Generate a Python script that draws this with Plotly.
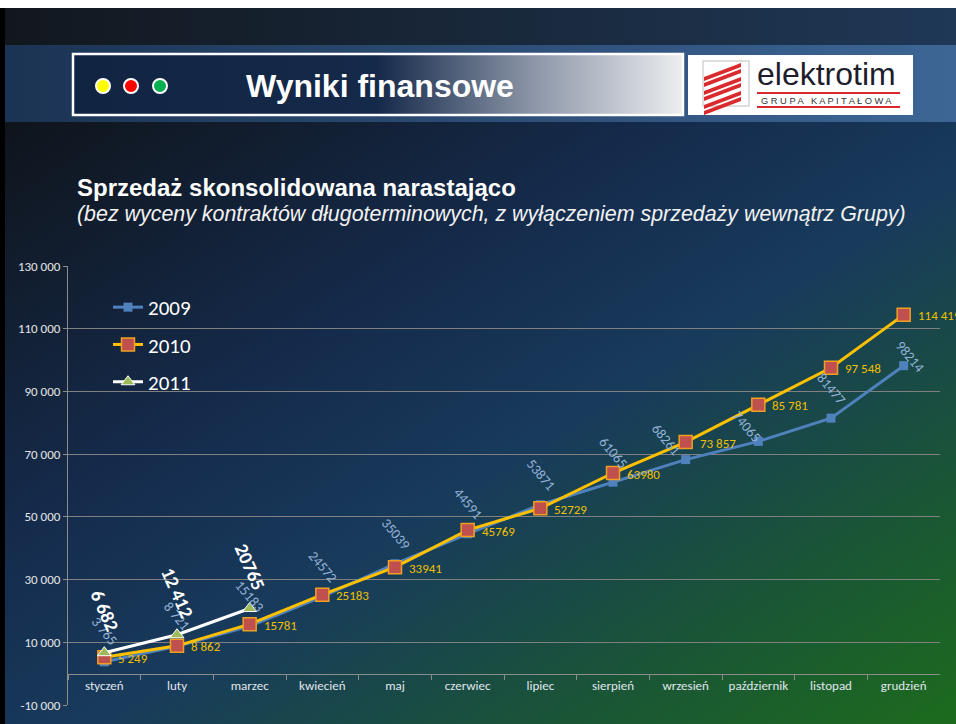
import base64
import plotly.graph_objects as go

W, H = 956, 724

months = ["styczeń", "luty", "marzec", "kwiecień", "maj", "czerwiec", "lipiec",
          "sierpień", "wrzesień", "październik", "listopad", "grudzień"]

sales_2009 = [3765, 8721, 15183, 24572, 35039, 44591, 53871, 61065, 68261, 74065, 81477, 98214]
sales_2010 = [5249, 8862, 15781, 25183, 33941, 45769, 52729, 63980, 73857, 85781, 97548, 114419]
sales_2011 = [6682, 12412, 20765]

labels_2009 = ["3 765", "8 721", "15183", "24572", "35039", "44591", "53871",
               "61065", "68261", "74065", "81477", "98214"]
labels_2010 = ["5 249", "8 862", "15781", "25183", "33941", "45769", "52729",
               "63980", "73 857", "85 781", "97 548", "114 419"]
labels_2011 = ["6 682", "12 412", "20765"]

y_ticks = list(range(-10000, 130001, 20000))
y_ticktext = [f"{v:,}".replace(",", " ") for v in y_ticks]

# label nudges for the 2009 series (as placed on the slide)
nudge_2009 = {"wrzesień": (-20, 20), "październik": (-12, 15), "grudzień": (6, 9)}

FONT = "Calibri, Carlito, Lato, sans-serif"
ARIAL = "Arial, Liberation Sans, sans-serif"


def px_x(x):
    return x / W


def px_y(y):
    return 1 - y / H


# slide background (decoration only)
stripes = "".join(
    f'<polygon points="704,{y + 9} 741,{y - 5} 741,{y - 1} 704,{y + 13}" fill="#d92a2e"/>'
    for y in [68, 74, 82, 88, 96, 102]
)
svg = f"""<svg xmlns="http://www.w3.org/2000/svg" width="{W}" height="{H}" viewBox="0 0 {W} {H}">
<defs>
<linearGradient id="bg" x1="0" y1="0" x2="1" y2="1">
<stop offset="0" stop-color="#0f141b"/>
<stop offset="0.35" stop-color="#152b4c"/>
<stop offset="0.55" stop-color="#183b5c"/>
<stop offset="0.78" stop-color="#1a5438"/>
<stop offset="1" stop-color="#1c6b1d"/>
</linearGradient>
<linearGradient id="top" x1="0" y1="0" x2="1" y2="0">
<stop offset="0" stop-color="#12171e"/>
<stop offset="1" stop-color="#1f3856"/>
</linearGradient>
<linearGradient id="band" x1="0" y1="0" x2="1" y2="0">
<stop offset="0" stop-color="#1b3353"/>
<stop offset="1" stop-color="#3d6696"/>
</linearGradient>
<linearGradient id="box" x1="0" y1="0" x2="1" y2="0">
<stop offset="0" stop-color="#112442"/>
<stop offset="0.5" stop-color="#15294a"/>
<stop offset="0.75" stop-color="#8a94a6"/>
<stop offset="1" stop-color="#eceef0"/>
</linearGradient>
</defs>
<rect x="0" y="0" width="{W}" height="{H}" fill="#ffffff"/>
<rect x="0" y="8" width="{W}" height="37" fill="url(#top)"/>
<rect x="0" y="45" width="{W}" height="77" fill="url(#band)"/>
<rect x="0" y="122" width="{W}" height="{H - 122}" fill="url(#bg)"/>
<rect x="0" y="8" width="5" height="{H}" fill="#000000"/>
<rect x="73" y="54" width="610" height="61" fill="url(#box)" stroke="#ffffff" stroke-width="2.5"/>
<rect x="688" y="55" width="225" height="60" fill="#ffffff"/>
<rect x="703" y="61" width="46" height="45" fill="none" stroke="#c8c8c8" stroke-width="1.2"/>
{stripes}
<rect x="757" y="92" width="143" height="2" fill="#d92a2e"/>
<rect x="757" y="106" width="143" height="2" fill="#d92a2e"/>
<circle cx="103" cy="86" r="7" fill="#ffff00" stroke="#ffffff" stroke-width="2"/>
<circle cx="131" cy="86" r="7" fill="#ff0000" stroke="#ffffff" stroke-width="2"/>
<circle cx="160" cy="86" r="7" fill="#00b050" stroke="#ffffff" stroke-width="2"/>
</svg>"""
bg_uri = "data:image/svg+xml;base64," + base64.b64encode(svg.encode("utf-8")).decode()

fig = go.Figure()
fig.add_trace(go.Scatter(
    x=months, y=sales_2009, name="2009", mode="lines+markers",
    line=dict(color="#4f81bd", width=3),
    marker=dict(symbol="square", size=9, color="#4f81bd"),
    legendgroup="a",
))
fig.add_trace(go.Scatter(
    x=months, y=sales_2010, name="2010", mode="lines+markers",
    line=dict(color="#ffc000", width=3),
    marker=dict(symbol="square", size=13, color="#c0504d",
                line=dict(color="#f0a020", width=1.5)),
    legendgroup="b",
))
fig.add_trace(go.Scatter(
    x=months[:len(sales_2011)], y=sales_2011, name="2011", mode="lines+markers",
    line=dict(color="#ffffff", width=3),
    marker=dict(symbol="triangle-up", size=12, color="#9bbb59",
                line=dict(color="#ffffff", width=1)),
    legendgroup="c",
))

ann = []
for m, v, t in zip(months, sales_2009, labels_2009):
    dx, dy = nudge_2009.get(m, (0, 30))
    ann.append(dict(x=m, y=v, xref="x", yref="y", text=t, showarrow=False,
                    textangle=50, xshift=dx, yshift=dy,
                    font=dict(family=FONT, size=14, color="#95b3d7")))
for m, v, t in zip(months, sales_2010, labels_2010):
    ann.append(dict(x=m, y=v, xref="x", yref="y", text=t, showarrow=False,
                    xanchor="left", xshift=12, yshift=-1,
                    font=dict(family=FONT, size=13, color="#f2c000")))
for m, v, t in zip(months, sales_2011, labels_2011):
    ann.append(dict(x=m, y=v, xref="x", yref="y", text=f"<b>{t}</b>", showarrow=False,
                    textangle=66, yshift=42,
                    font=dict(family=FONT, size=19, color="#ffffff")))

ann += [
    dict(x=px_x(244), y=px_y(86), xref="paper", yref="paper", xanchor="left",
         yanchor="middle", showarrow=False, text="<b>Wyniki finansowe</b>",
         font=dict(family=ARIAL, size=32, color="#ffffff")),
    dict(x=px_x(755), y=px_y(74), xref="paper", yref="paper", xanchor="left",
         yanchor="middle", showarrow=False, text="elektrotim",
         font=dict(family=ARIAL, size=32, color="#1d1d2b")),
    dict(x=px_x(759), y=px_y(100.5), xref="paper", yref="paper", xanchor="left",
         yanchor="middle", showarrow=False, text="G R U P A   K A P I T A Ł O W A",
         font=dict(family=ARIAL, size=9.3, color="#333333")),
    dict(x=px_x(75), y=px_y(187), xref="paper", yref="paper", xanchor="left",
         yanchor="middle", showarrow=False, text="<b>Sprzedaż skonsolidowana narastająco</b>",
         font=dict(family=ARIAL, size=24, color="#ffffff")),
    dict(x=px_x(75), y=px_y(214), xref="paper", yref="paper", xanchor="left",
         yanchor="middle", showarrow=False,
         text="<i>(bez wyceny kontraktów długoterminowych, z wyłączeniem sprzedaży wewnątrz Grupy)</i>",
         font=dict(family=ARIAL, size=21.4, color="#f2f2f2")),
]

y_dom = [px_y(705), px_y(266)]
x_axis_pos = y_dom[0] + (0 - (-10000)) / 140000 * (y_dom[1] - y_dom[0])

fig.update_layout(
    width=W, height=H,
    margin=dict(l=0, r=0, t=0, b=0),
    paper_bgcolor="rgba(0,0,0,0)", plot_bgcolor="rgba(0,0,0,0)",
    images=[dict(source=bg_uri, xref="paper", yref="paper", x=0, y=1,
                 sizex=1, sizey=1, sizing="stretch", layer="below",
                 xanchor="left", yanchor="top")],
    xaxis=dict(
        type="category", categoryorder="array", categoryarray=months,
        range=[-0.5, 11.5], domain=[px_x(68), px_x(940)],
        anchor="free", position=x_axis_pos, automargin=False,
        showline=True, linecolor="#8c8c8c", linewidth=1,
        ticks="outside", ticklen=5, tickcolor="#8c8c8c", tickson="boundaries",
        showgrid=False, fixedrange=True,
        tickfont=dict(family=FONT, size=13, color="#e0e6ee"),
    ),
    yaxis=dict(
        range=[-10000, 130000], domain=y_dom, automargin=False,
        tickvals=y_ticks, ticktext=y_ticktext,
        showgrid=True, gridcolor="#808080", gridwidth=1,
        showline=True, linecolor="#8c8c8c", linewidth=1,
        ticks="outside", ticklen=4, tickcolor="#8c8c8c",
        zeroline=False, fixedrange=True,
        tickfont=dict(family=FONT, size=13, color="#e6e6e6"),
    ),
    legend=dict(x=px_x(108), y=px_y(287), xanchor="left", yanchor="top",
                bgcolor="rgba(0,0,0,0)", tracegroupgap=7,
                font=dict(family=FONT, size=21, color="#ffffff")),
    annotations=ann,
)

fig.write_html("out.html", config={"displayModeBar": False},
               post_script="document.body.style.margin = '0';")
